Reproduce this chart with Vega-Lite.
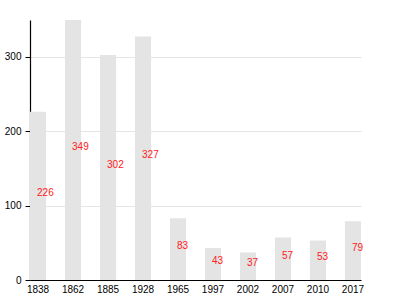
{
  "$schema": "https://vega.github.io/schema/vega-lite/v6.json",
  "width": 331,
  "height": 260,
  "autosize": {"type": "none"},
  "padding": {"left": 30, "top": 20, "right": 39, "bottom": 20},
  "background": "white",
  "config": {
    "view": {"stroke": null},
    "font": "Liberation Sans",
    "axis": {"labelFont": "Liberation Sans", "labelFontSize": 10, "labelColor": "#000", "domainColor": "#000", "tickColor": "#000", "title": null}
  },
  "data": {
    "values": [
      {"year": "1838", "value": 226},
      {"year": "1862", "value": 349},
      {"year": "1885", "value": 302},
      {"year": "1928", "value": 327},
      {"year": "1965", "value": 83},
      {"year": "1997", "value": 43},
      {"year": "2002", "value": 37},
      {"year": "2007", "value": 57},
      {"year": "2010", "value": 53},
      {"year": "2017", "value": 79}
    ]
  },
  "layer": [
    {
      "mark": {"type": "bar", "color": "#e4e4e4"},
      "encoding": {
        "x": {"field": "year", "type": "ordinal", "sort": null,
          "scale": {"paddingInner": 0.54, "paddingOuter": 0},
          "axis": {"labelAngle": 0, "ticks": false, "labelPadding": 4, "domainWidth": 1.2}},
        "y": {"field": "value", "type": "quantitative",
          "scale": {"domain": [0, 349], "nice": false},
          "axis": {"values": [0, 100, 200, 300], "tickSize": 5, "labelPadding": 4, "grid": true, "gridColor": "#e5e5e5", "domainWidth": 1.2}}
      }
    },
    {
      "mark": {"type": "text", "color": "#ff2020", "fontSize": 10, "align": "left", "baseline": "alphabetic", "dx": -1},
      "encoding": {
        "x": {"field": "year", "type": "ordinal", "sort": null},
        "y": {"field": "value", "type": "quantitative",
          "scale": {"domain": [0, 698], "nice": false}, "axis": null},
        "text": {"field": "value", "type": "quantitative"}
      }
    }
  ],
  "resolve": {"scale": {"y": "independent"}}
}
